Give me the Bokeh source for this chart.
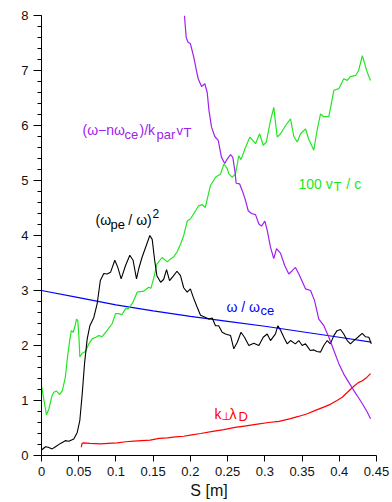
from bokeh.plotting import figure
from bokeh.models import Range1d, FixedTicker, Label
from bokeh.embed import file_html
from bokeh.resources import INLINE

# ---- data: distance along the field line S [m] and the plotted quantities ----
s_green = [0.0, 0.004, 0.0067, 0.010, 0.014, 0.0166, 0.020, 0.0246, 0.028, 0.032,
           0.035, 0.0376, 0.040, 0.0425, 0.045, 0.047, 0.0488, 0.0505, 0.0515, 0.0547,
           0.059, 0.0636, 0.068, 0.073, 0.077, 0.0815, 0.088, 0.095, 0.0994, 0.104,
           0.108, 0.113, 0.117, 0.123, 0.1285, 0.1375, 0.144, 0.147, 0.151, 0.155,
           0.162, 0.169, 0.173, 0.178, 0.182, 0.187, 0.191, 0.196, 0.200, 0.207,
           0.211, 0.216, 0.220, 0.227, 0.2337, 0.2405, 0.245, 0.2494, 0.2517, 0.256,
           0.2606, 0.265, 0.268, 0.274, 0.280, 0.2875, 0.293, 0.2978, 0.302, 0.3076,
           0.312, 0.3166, 0.321, 0.328, 0.3345, 0.339, 0.3435, 0.348, 0.3546, 0.359,
           0.3658, 0.370, 0.3748, 0.379, 0.386, 0.3927, 0.3994, 0.406, 0.4107, 0.415,
           0.422, 0.426, 0.431, 0.4375, 0.442]
v_green = [1.27, 0.95, 0.74, 0.85, 1.08, 1.15, 1.17, 1.11, 1.18, 1.42,
           1.80, 2.06, 2.27, 2.24, 2.35, 2.48, 2.45, 2.10, 1.79, 1.86,
           1.89, 2.03, 2.12, 2.15, 2.18, 2.16, 2.27, 2.40, 2.58, 2.58,
           2.56, 2.67, 2.67, 2.79, 2.97, 2.99, 3.06, 3.04, 3.24, 3.48,
           3.60, 3.52, 3.57, 3.62, 3.70, 3.85, 4.00, 4.27, 4.30, 4.45,
           4.54, 4.56, 4.51, 4.91, 5.06, 5.12, 5.30, 5.22, 5.12, 5.06,
           5.12, 5.45, 5.38, 5.60, 5.79, 5.67, 5.85, 5.64, 5.70, 6.09,
           6.33, 5.79, 5.85, 6.00, 6.12, 5.80, 5.70, 5.85, 5.94, 5.75,
           5.55, 5.90, 6.21, 6.16, 6.16, 6.64, 6.67, 6.85, 6.82, 6.89,
           6.91, 7.00, 7.27, 6.97, 6.82]

s_black = [0.0, 0.0054, 0.009, 0.0143, 0.0188, 0.0255, 0.032, 0.0367, 0.0434, 0.048,
           0.0515, 0.0547, 0.0578, 0.0614, 0.065, 0.0703, 0.0748, 0.079, 0.0837, 0.088,
           0.0927, 0.0985, 0.1025, 0.107, 0.1128, 0.1186, 0.123, 0.1276, 0.1307, 0.135,
           0.140, 0.1455, 0.1487, 0.152, 0.155, 0.160, 0.164, 0.168, 0.172, 0.177,
           0.182, 0.1867, 0.191, 0.1957, 0.200, 0.2038, 0.209, 0.2136, 0.219, 0.2248,
           0.2293, 0.2337, 0.238, 0.2427, 0.247, 0.254, 0.2583, 0.263, 0.268, 0.2727,
           0.2785, 0.2852, 0.292, 0.2978, 0.3032, 0.3076, 0.3143, 0.3175, 0.321, 0.3255,
           0.330, 0.3345, 0.341, 0.3456, 0.3502, 0.3546, 0.3578, 0.361, 0.3658, 0.370,
           0.3748, 0.3792, 0.3838, 0.388, 0.3927, 0.397, 0.4017, 0.406, 0.4107, 0.415,
           0.4196, 0.4249, 0.4308, 0.435, 0.4397, 0.443]
v_black = [0.10, 0.16, 0.15, 0.12, 0.16, 0.22, 0.27, 0.26, 0.30, 0.42,
           0.64, 1.12, 1.67, 2.12, 2.36, 2.51, 2.76, 3.18, 3.31, 3.30,
           3.33, 3.55, 3.42, 3.21, 3.45, 3.64, 3.55, 3.21, 3.40, 3.60,
           3.79, 4.00, 3.93, 3.55, 3.27, 3.15, 3.20, 3.38, 3.18, 3.26,
           3.35, 3.27, 3.05, 2.97, 3.03, 2.88, 2.70, 2.55, 2.52, 2.48,
           2.50, 2.36, 2.36, 2.24, 2.21, 2.18, 1.94, 2.06, 2.24, 2.15,
           2.00, 2.04, 2.00, 2.15, 2.21, 2.09, 2.21, 2.36, 2.28, 2.15,
           2.03, 2.09, 2.03, 2.09, 2.00, 2.03, 1.97, 1.91, 1.92, 1.89,
           1.88, 2.00, 2.09, 2.03, 2.18, 2.27, 2.29, 2.21, 2.09, 2.03,
           2.09, 2.15, 2.22, 2.16, 2.15, 2.03]

s_blue = [0.0, 0.05, 0.1, 0.15, 0.2, 0.25, 0.3, 0.35, 0.4, 0.443]
v_blue = [3.00, 2.87, 2.74, 2.63, 2.53, 2.44, 2.35, 2.25, 2.15, 2.06]

s_purple = [0.192, 0.1944, 0.197, 0.200, 0.2046, 0.2078, 0.2105, 0.215, 0.2194, 0.2226,
            0.225, 0.2284, 0.2328, 0.2374, 0.2418, 0.2462, 0.2494, 0.2539, 0.257, 0.2597,
            0.2615, 0.266, 0.2696, 0.274, 0.2777, 0.282, 0.2875, 0.292, 0.2955, 0.300,
            0.3033, 0.3076, 0.312, 0.3157, 0.321, 0.3268, 0.3322, 0.3368, 0.3412, 0.3457,
            0.3546, 0.3614, 0.3667, 0.3725, 0.3793, 0.386, 0.3927, 0.3994, 0.406, 0.4128,
            0.4196, 0.424, 0.431, 0.4375, 0.442]
v_purple = [8.00, 7.60, 7.51, 7.49, 7.24, 7.02, 6.85, 6.71, 6.76, 6.60,
            6.27, 5.97, 5.80, 5.73, 5.42, 5.31, 5.39, 5.47, 5.42, 5.18,
            4.95, 4.94, 4.82, 4.64, 4.45, 4.40, 4.38, 4.21, 4.17, 4.26,
            4.09, 3.79, 3.58, 3.76, 3.68, 3.45, 3.30, 3.36, 3.42, 3.30,
            3.03, 3.00, 2.82, 2.48, 2.36, 2.15, 1.91, 1.67, 1.48, 1.33,
            1.18, 1.09, 0.94, 0.79, 0.67]

s_red = [0.0535, 0.0545, 0.057, 0.065, 0.079, 0.090, 0.1017, 0.113, 0.124, 0.135,
         0.146, 0.158, 0.169, 0.180, 0.191, 0.200, 0.2136, 0.230, 0.245, 0.260,
         0.275, 0.290, 0.305, 0.319, 0.3345, 0.345, 0.357, 0.368, 0.379, 0.388,
         0.397, 0.404, 0.411, 0.4196, 0.425, 0.431, 0.437, 0.442]
v_red = [0.15, 0.22, 0.23, 0.22, 0.21, 0.22, 0.23, 0.25, 0.26, 0.27,
         0.28, 0.31, 0.32, 0.34, 0.35, 0.37, 0.40, 0.44, 0.47, 0.51,
         0.54, 0.57, 0.60, 0.62, 0.67, 0.71, 0.76, 0.82, 0.88, 0.93,
         1.00, 1.06, 1.15, 1.26, 1.32, 1.36, 1.42, 1.49]

x_ticks = [0, 0.05, 0.1, 0.15, 0.2, 0.25, 0.3, 0.35, 0.4, 0.45]
x_tick_labels = ["0", "0.05", "0.1", "0.15", "0.2", "0.25", "0.3", "0.35", "0.4", "0.45"]
y_ticks = [0, 1, 2, 3, 4, 5, 6, 7, 8]

# ---- colours ----
C_GREEN = "#22e622"
C_PURPLE = "#a020f0"
C_BLUE = "#0000ff"
C_RED = "#ff0000"
C_BLACK = "#000000"
FONT = "Liberation Sans"
NBSP = "\u00a0"

p = figure(width=392, height=502, output_backend="svg", toolbar_location=None,
           x_range=Range1d(0, 0.45), y_range=Range1d(0, 8),
           min_border_left=41, min_border_right=16, min_border_top=15,
           min_border_bottom=47)
p.outline_line_color = None
p.xgrid.visible = False
p.ygrid.visible = False
p.background_fill_color = "white"
p.border_fill_color = "white"

# x axis
xa = p.xaxis[0]
xa.ticker = FixedTicker(ticks=x_ticks)
xa.major_label_overrides = {t: lab for t, lab in zip(x_ticks, x_tick_labels)}
xa.major_tick_in = 0
xa.major_tick_out = 6
xa.major_label_standoff = 5
xa.axis_label = "S [m]"
xa.axis_label_standoff = 3
xa.axis_label_text_font = FONT
xa.axis_label_text_font_size = "16px"
xa.axis_label_text_font_style = "normal"
xa.axis_label_text_color = "#111111"

# y axis with minor ticks every 0.2
ya = p.yaxis[0]
minor = [round(0.2 * k, 1) for k in range(0, 41)]
ya.ticker = FixedTicker(ticks=y_ticks, minor_ticks=minor)
ya.major_tick_in = 0
ya.major_tick_out = 8
ya.minor_tick_in = 0
ya.minor_tick_out = 4
ya.major_label_standoff = 5

for ax in (xa, ya):
    ax.axis_line_color = "black"
    ax.major_tick_line_color = "black"
    ax.minor_tick_line_color = "black" if ax is ya else None
    ax.major_label_text_font = FONT
    ax.major_label_text_font_size = "13px"
    ax.major_label_text_color = "#111111"

# ---- curves ----
p.line(s_blue, v_blue, line_color=C_BLUE, line_width=1.2)
p.line(s_red, v_red, line_color=C_RED, line_width=1.2)
p.line(s_green, v_green, line_color=C_GREEN, line_width=1.2)
p.line(s_black, v_black, line_color=C_BLACK, line_width=1.1)
p.line(s_purple, v_purple, line_color=C_PURPLE, line_width=1.2)


def add_pieces(x, y, pieces, color):
    """Build a label out of pieces so sub/superscripts can be shifted."""
    for text, dx, dy, size, font in pieces:
        p.add_layout(Label(x=x, y=y, x_offset=dx, y_offset=dy, text=text,
                           text_font=font, text_font_size=f"{size}px",
                           text_color=color, text_baseline="middle",
                           text_align="left"))


add_pieces(0.0551, 5.91, [
    ("(\u03c9\u2212n\u03c9", 0, 0, 14, FONT),
    ("ce", 42, -4, 13, FONT),
    (")/k", 57, 0, 14, FONT),
    ("par", 74, -4, 13, FONT),
    ("v", 94, 0, 13, FONT),
    ("T", 101, -2, 13, FONT),
], C_PURPLE)

add_pieces(0.3452, 4.945, [
    ("100 v", 0, 0, 14, FONT),
    ("T", 35, -3, 13, FONT),
    (NBSP + "/ c", 44, 0, 14, FONT),
], C_GREEN)

add_pieces(0.0725, 4.273, [
    ("(\u03c9", 0, 0, 14, FONT),
    ("pe", 15, -4, 13, FONT),
    (NBSP + "/ \u03c9)", 29, 0, 14, FONT),
    ("2", 57, 7, 12, FONT),
], C_BLACK)

add_pieces(0.2485, 2.709, [
    ("\u03c9 / \u03c9", 0, 0, 14, FONT),
    ("ce", 34, -4, 13, FONT),
], C_BLUE)

add_pieces(0.2324, 0.758, [
    ("k", 0, 0, 14, FONT),
    ("\u22a5", 7, -3, 11, "DejaVu Sans"),
    ("\u03bb", 15, 0, 14, FONT),
    ("D", 24, -3, 13, FONT),
], C_RED)

open("out.html", "w").write(file_html(p, INLINE))
